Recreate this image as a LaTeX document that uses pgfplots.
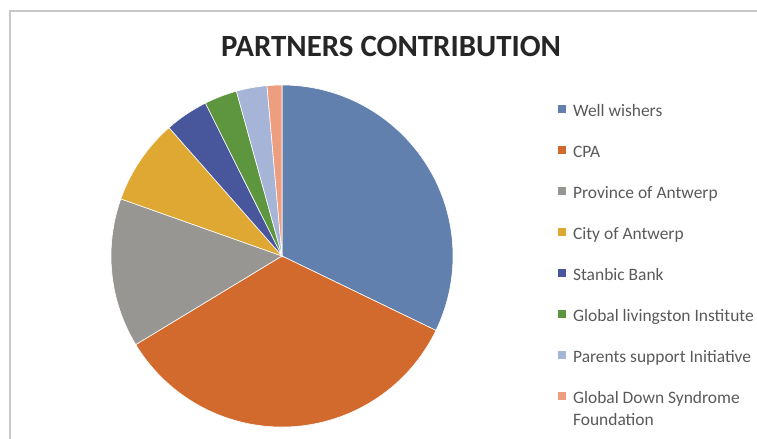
\documentclass[border=0pt]{standalone}
\usepackage{pgfplots}
\usepackage{pgfplotstable}
\pgfplotsset{compat=1.18}
\usepackage{fontspec}
\setmainfont{Carlito}
\definecolor{c1}{RGB}{98,128,173}
\definecolor{c2}{RGB}{210,106,46}
\definecolor{c3}{RGB}{152,150,147}
\definecolor{c4}{RGB}{222,168,50}
\definecolor{c5}{RGB}{72,86,155}
\definecolor{c6}{RGB}{94,150,63}
\definecolor{c7}{RGB}{165,180,215}
\definecolor{c8}{RGB}{238,158,128}
\definecolor{legtext}{RGB}{89,89,89}
\definecolor{frame}{RGB}{200,200,200}
\pgfplotstableread[col sep=comma]{
label,value
Well wishers,32.2
CPA,34.2
Province of Antwerp,14.1
City of Antwerp,8.1
Stanbic Bank,4.1
Global livingston Institute,3.1
Parents support Initiative,2.9
Global Down Syndrome Foundation,1.4
}\partners
\begin{document}
\begin{tikzpicture}
\useasboundingbox (0,0) rectangle (757bp,439bp);
% cumulative angles from the table values
\gdef\total{0}
\pgfplotsforeachungrouped \i in {0,...,7}{%
  \pgfplotstablegetelem{\i}{value}\of\partners
  \pgfmathsetmacro\total{\total+\pgfplotsretval}%
}
\gdef\cum{0}
\pgfplotsforeachungrouped \i in {0,...,7}{%
  \pgfplotstablegetelem{\i}{value}\of\partners
  \pgfmathsetmacro\start{90-360*(\cum/\total)}%
  \pgfmathsetmacro\cum{\cum+\pgfplotsretval}%
  \pgfmathsetmacro\stop{90-360*(\cum/\total)}%
  \expandafter\xdef\csname sa\i\endcsname{\start}%
  \expandafter\xdef\csname ea\i\endcsname{\stop}%
}
\draw[frame, line width=1.5bp] (10bp,0) -- (10bp,428bp) -- (757bp,428bp);
\node[font=\bfseries\fontsize{31}{36}\selectfont, text=black!85] at (391bp,393bp) {PARTNERS CONTRIBUTION};
\begin{axis}[
  at={(282bp,183bp)}, anchor=origin,
  x=171bp, y=171bp,
  xmin=-1, xmax=1, ymin=-1, ymax=1,
  hide axis, clip=false,
  legend image code/.code={\fill[#1, draw=none] (0bp,-1bp) rectangle (8bp,7bp);},
  legend style={
    at={(axis description cs:1.298,0.95)}, anchor=north west,
    draw=none, fill=none,
    font=\fontsize{17.5}{22}\selectfont, text=legtext,
    nodes={inner sep=0pt, text height=12bp, text depth=4bp},
    row sep=25bp, column sep=7bp,
  },
  legend cell align=left,
]
\newcommand\slice[2]{%
  \fill[#2, draw=white, line width=0.6pt] (axis cs:0,0) --
    (axis cs:{cos(\csname sa#1\endcsname)},{sin(\csname sa#1\endcsname)})
    arc[start angle=\csname sa#1\endcsname, end angle=\csname ea#1\endcsname, radius=171bp] -- cycle;}
\slice{0}{c1}
\slice{1}{c2}
\slice{2}{c3}
\slice{3}{c4}
\slice{4}{c5}
\slice{5}{c6}
\slice{6}{c7}
\slice{7}{c8}
\addlegendimage{fill=c1}\addlegendentry{Well wishers}
\addlegendimage{fill=c2}\addlegendentry{CPA}
\addlegendimage{fill=c3}\addlegendentry{Province of Antwerp}
\addlegendimage{fill=c4}\addlegendentry{City of Antwerp}
\addlegendimage{fill=c5}\addlegendentry{Stanbic Bank}
\addlegendimage{fill=c6}\addlegendentry{Global livingston Institute}
\addlegendimage{fill=c7}\addlegendentry{Parents support Initiative}
\addlegendimage{fill=c8}\addlegendentry{\begin{tabular}[t]{@{}l@{}}Global Down Syndrome\\Foundation\end{tabular}}
\end{axis}
\end{tikzpicture}
\end{document}
